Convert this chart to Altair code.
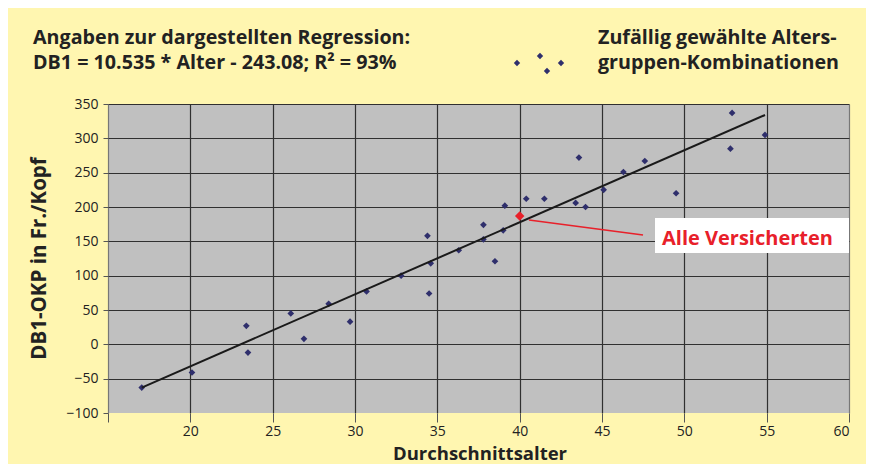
import altair as alt
import pandas as pd

# --- data ---
ages = [17.05, 20.1, 23.4, 23.5, 26.1, 26.9, 28.4, 29.7, 30.7, 32.8, 34.4, 34.5,
        34.6, 36.3, 37.8, 37.8, 38.5, 39.0, 39.1, 40.4, 41.5, 43.4, 43.6, 44.0,
        45.1, 46.3, 47.6, 49.5, 52.8, 52.9, 54.9]
db1 = [-63, -41, 27, -12, 45, 8, 59, 33, 77, 100, 158, 74,
       118, 137, 174, 153, 121, 166, 202, 212, 212, 206, 272, 200,
       225, 251, 267, 220, 285, 337, 305]
all_age = [40.0]
all_db1 = [187]
line_age = [17.05, 54.9]
line_db1 = [-63, 334]
x_ticks = [15, 20, 25, 30, 35, 40, 45, 50, 55, 60]
y_ticks = [-100, -50, 0, 50, 100, 150, 200, 250, 300, 350]

title1 = "Angaben zur dargestellten Regression:"
title2 = "DB1 = 10.535 * Alter - 243.08; R² = 93%"
legend1 = "Zufällig gewählte Alters-"
legend2 = "gruppen-Kombinationen"
label_all = "Alle Versicherten"
x_title = "Durchschnittsalter"
y_title = "DB1-OKP in Fr./Kopf"

FONT = "Open Sans"
NAVY = "#2f2f6c"
RED = "#e8202a"
TXT = "#222222"

pts = pd.DataFrame({"age": ages, "db1": db1})
allp = pd.DataFrame({"age": all_age, "db1": all_db1})
reg = pd.DataFrame({"age": line_age, "db1": line_db1})

xs = alt.Scale(domain=[15, 60], nice=False, zero=False)
ys = alt.Scale(domain=[-100, 350], nice=False, zero=False)

grid_x_color = {"condition": {"test": "datum.value == 15 || datum.value == 60", "value": "#777777"},
                "value": "#303030"}
grid_y_color = {"condition": {"test": "datum.value == -100", "value": "rgba(0,0,0,0)"},
                "value": "#303030"}

x_axis = alt.Axis(values=x_ticks, labelExpr="datum.value == 15 ? '' : datum.label",
                  grid=True, gridColor=grid_x_color, gridWidth=1.2, domain=False,
                  tickSize=9, tickColor="#555555", labelFontSize=14, labelColor=TXT,
                  labelFont=FONT, labelPadding=2, labelOverlap=False, title=None)
y_axis = alt.Axis(values=y_ticks, grid=True, gridColor=grid_y_color, gridWidth=1.2,
                  domain=False, tickSize=5, tickColor="#555555", labelFontSize=14,
                  labelColor=TXT, labelFont=FONT, labelPadding=5, labelOverlap=False,
                  labelFlush=False, title=None)


def X():
    return alt.X("age:Q", scale=xs, axis=x_axis)


def Y():
    return alt.Y("db1:Q", scale=ys, axis=y_axis)


points = alt.Chart(pts).mark_point(shape="diamond", filled=True, size=45, color=NAVY, opacity=1).encode(
    x=X(), y=Y())

regline = alt.Chart(reg).mark_line(color="#1a1a1a", strokeWidth=2).encode(x=X(), y=Y())

allpt = alt.Chart(allp).mark_point(shape="diamond", filled=True, size=90, color=RED, opacity=1).encode(
    x=X(), y=Y())

one = pd.DataFrame({"a": [0]})

connector = alt.Chart(one).mark_rule(color=RED, strokeWidth=1.6).encode(
    x=alt.value(421), y=alt.value(116), x2=alt.value(535), y2=alt.value(131))

box = alt.Chart(one).mark_rect(color="white").encode(
    x=alt.value(547), x2=alt.value(741), y=alt.value(114), y2=alt.value(149))


def text(t, x, y, size, color=TXT, angle=0, align="left", baseline="alphabetic", weight="bold"):
    return alt.Chart(pd.DataFrame({"t": [t]})).mark_text(
        font=FONT, fontSize=size, fontWeight=weight, color=color, align=align,
        baseline=baseline, angle=angle).encode(text="t:N", x=alt.value(x), y=alt.value(y))


layers = [points, regline, allpt, connector, box,
          text(label_all, 554, 141, 20, color=RED),
          text(title1, -75, -60, 19.7),
          text(title2, -75, -35, 19.7),
          text(legend1, 490, -60, 19.7),
          text(legend2, 490, -35, 19.7),
          text(x_title, 372, 356, 18.5, align="center"),
          text(y_title, -68, 154.5, 20.5, angle=270, align="center", baseline="middle")]

for lx, ly in [(409, -41), (432, -48), (439, -33), (453, -41)]:
    layers.append(alt.Chart(one).mark_point(shape="diamond", filled=True, size=40, color=NAVY, opacity=1)
                  .encode(x=alt.value(lx), y=alt.value(ly)))

chart = alt.layer(*layers).properties(
    width=741, height=309,
    padding={"left": 100, "top": 96, "right": 17, "bottom": 51},
    autosize=alt.AutoSizeParams(type="none"),
    background="#fff6b0",
).configure_view(fill="#c0c0c0", stroke=None)

chart.save("out.html", embed_options={"renderer": "svg", "actions": False})
